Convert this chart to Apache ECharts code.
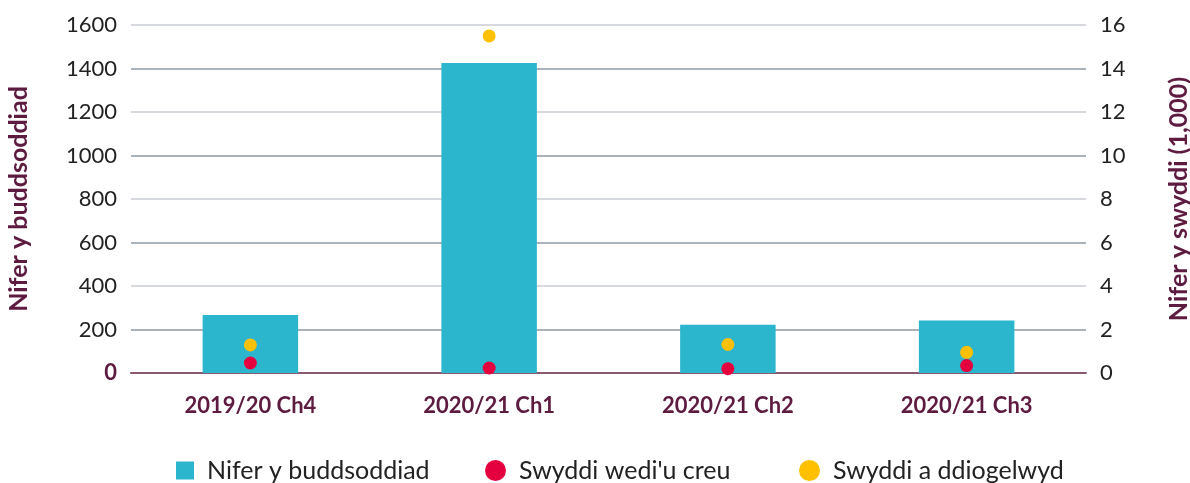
<!DOCTYPE html>
<html>
<head>
<meta charset="utf-8">
<script src="https://cdn.jsdelivr.net/npm/echarts@6/dist/echarts.min.js"></script>
<style>
html, body { margin: 0; padding: 0; background: #fff; }
#chart { width: 1190px; height: 483px; }
</style>
</head>
<body>
<div id="chart"></div>
<script>
const categories = ['2019/20 Ch4', '2020/21 Ch1', '2020/21 Ch2', '2020/21 Ch3'];
const investments = [267, 1425, 222, 241];
const jobsCreated = [0.46, 0.23, 0.2, 0.34];
const jobsSafeguarded = [1.29, 15.5, 1.31, 0.95];
const leftTicks = [0, 1600, 200];
const rightTicks = [0, 16, 2];

const maroon = '#5e1b40';
const font = 'Lato, "Noto Sans", sans-serif';
const chart = echarts.init(document.getElementById('chart'));

// one legend per item so each sits where the original has it
function legendAt(left, name, icon, size) {
    return {
        top: 458,
        left: left,
        padding: 0,
        itemWidth: size,
        itemHeight: size,
        textStyle: { fontSize: 25, color: '#222', padding: [0, 0, 0, 8] },
        data: [{ name: name, icon: icon }]
    };
}

chart.setOption({
    animation: false,
    textStyle: { fontFamily: font },
    grid: { left: 131, right: 104, top: 25, bottom: 110, outerBoundsMode: 'none' },
    legend: [
        legendAt(176, 'Nifer y buddsoddiad', 'rect', 18),
        legendAt(485, "Swyddi wedi'u creu", 'circle', 21),
        legendAt(799, 'Swyddi a ddiogelwyd', 'circle', 21)
    ],
    xAxis: {
        type: 'category',
        data: categories,
        axisTick: { show: false },
        axisLine: { lineStyle: { color: '#8a5a73', width: 2 } },
        axisLabel: { color: maroon, fontSize: 22, fontWeight: 'bold', margin: 22 }
    },
    yAxis: [{
        type: 'value',
        min: leftTicks[0],
        max: leftTicks[1],
        interval: leftTicks[2],
        name: 'Nifer y buddsoddiad',
        nameLocation: 'middle',
        nameGap: 100,
        nameTextStyle: { color: maroon, fontSize: 25, fontWeight: 'bold' },
        axisLine: { show: false },
        axisTick: { show: false },
        axisLabel: {
            fontSize: 22,
            margin: 14,
            color: '#222',
            formatter: function (v) { return v === 0 ? '{z|0}' : String(v); },
            rich: { z: { color: maroon, fontWeight: 'bold', fontSize: 22 } }
        },
        splitLine: { lineStyle: { color: ['#c9cdd2', '#8e98a4'], width: 1.5 } }
    }, {
        type: 'value',
        min: rightTicks[0],
        max: rightTicks[1],
        interval: rightTicks[2],
        name: 'Nifer y swyddi (1,000)',
        nameLocation: 'middle',
        nameRotate: 90,
        nameGap: 80,
        nameTextStyle: { color: maroon, fontSize: 25, fontWeight: 'bold' },
        axisLine: { show: false },
        axisTick: { show: false },
        axisLabel: { fontSize: 22, margin: 14, color: '#222' },
        splitLine: { show: false }
    }],
    series: [{
        name: 'Nifer y buddsoddiad',
        type: 'bar',
        yAxisIndex: 0,
        barWidth: '40%',
        itemStyle: { color: '#2bb6ce' },
        data: investments
    }, {
        name: "Swyddi wedi'u creu",
        type: 'scatter',
        yAxisIndex: 1,
        symbol: 'circle',
        symbolSize: 13,
        itemStyle: { color: '#e4003f', opacity: 1 },
        data: jobsCreated
    }, {
        name: 'Swyddi a ddiogelwyd',
        type: 'scatter',
        yAxisIndex: 1,
        symbol: 'circle',
        symbolSize: 13,
        itemStyle: { color: '#ffc000', opacity: 1 },
        data: jobsSafeguarded
    }]
});
</script>
</body>
</html>
